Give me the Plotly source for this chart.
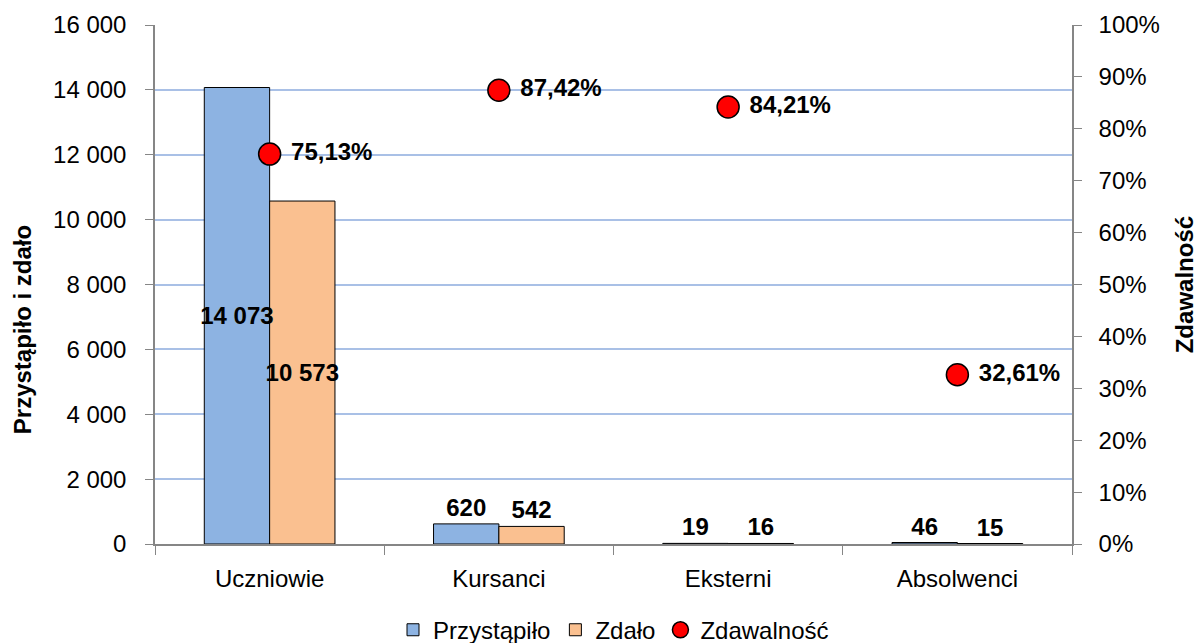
import plotly.graph_objects as go

categories = ["Uczniowie", "Kursanci", "Eksterni", "Absolwenci"]
przystapilo = [14073, 620, 19, 46]
zdalo = [10573, 542, 16, 15]
zdawalnosc = [75.13, 87.42, 84.21, 32.61]

FONT = "Liberation Sans, Arial, sans-serif"
AXIS_GRAY = "#868686"
GRID = "#A9C0E6"
FS = 24

fig = go.Figure()

def positions(vals, thr=2000):
    return ["inside" if v > thr else "outside" for v in vals]

series = [("Przystąpiło", przystapilo, "#8DB3E2", "p"),
          ("Zdało", zdalo, "#FAC090", "z")]

# visible bars
for name, vals, color, grp in series:
    fig.add_trace(go.Bar(
        name=name, x=categories, y=vals, offsetgroup=grp,
        marker=dict(color=color, line=dict(color="#000000", width=1)),
    ))

# transparent twins carrying the value labels, drawn after all bars so labels sit on top
for name, vals, color, grp in series:
    fig.add_trace(go.Bar(
        name=name, x=categories, y=vals, offsetgroup=grp, showlegend=False,
        marker=dict(color="rgba(0,0,0,0)", line=dict(width=0)),
        texttemplate="%{y:,}", textposition=positions(vals),
        insidetextanchor="middle", textangle=0, constraintext="none",
        textfont=dict(family=FONT, size=FS, color="#000000", weight="bold"),
        cliponaxis=False, hoverinfo="skip",
    ))

fig.add_trace(go.Scatter(
    name="Zdawalność", x=categories, y=zdawalnosc, yaxis="y2",
    mode="markers+text",
    marker=dict(color="#FF0000", size=22, line=dict(color="#000000", width=1.5)),
    texttemplate=" %{y:.2f}%", textposition="middle right",
    textfont=dict(family=FONT, size=FS, color="#000000", weight="bold"),
    cliponaxis=False,
))

# page body has an 8px default margin; compensate so the plot area sits where the reference has it
fig.update_layout(
    width=1194, height=635,
    margin=dict(l=147, r=130, t=17, b=99, autoexpand=False),
    paper_bgcolor="white", plot_bgcolor="white",
    font=dict(family=FONT, size=FS, color="#000000"),
    separators=", ",
    barmode="group", bargap=0.43, bargroupgap=0,
    showlegend=True,
    legend=dict(orientation="h", x=0.5, xanchor="center", y=-0.166, yanchor="middle",
                font=dict(family=FONT, size=FS), itemwidth=30, tracegroupgap=0,
                bgcolor="rgba(0,0,0,0)"),
    xaxis=dict(showline=True, linecolor=AXIS_GRAY, linewidth=1.5,
               ticks="outside", tickson="boundaries", ticklen=9, tickcolor=AXIS_GRAY,
               ticklabelstandoff=12,
               tickfont=dict(family=FONT, size=FS), showgrid=False),
    yaxis=dict(range=[0, 16000], dtick=2000, tickformat=",", separatethousands=True,
               showline=True, linecolor=AXIS_GRAY, linewidth=1.5,
               ticks="outside", ticklen=8, tickcolor=AXIS_GRAY, ticklabelstandoff=14,
               showgrid=True, gridcolor=GRID, gridwidth=2, zeroline=False,
               tickfont=dict(family=FONT, size=FS)),
    yaxis2=dict(range=[0, 100], dtick=10, ticksuffix="%", overlaying="y", side="right",
                showline=True, linecolor=AXIS_GRAY, linewidth=1.5,
                ticks="outside", ticklen=8, tickcolor=AXIS_GRAY, ticklabelstandoff=12,
                showgrid=False, zeroline=False,
                tickfont=dict(family=FONT, size=FS)),
    annotations=[
        dict(text="Przystąpiło i zdało", xref="paper", yref="paper",
             x=-0.145, y=0.412, xanchor="center", yanchor="middle", textangle=-90,
             showarrow=False, font=dict(family=FONT, size=FS, weight="bold")),
        dict(text="Zdawalność", xref="paper", yref="paper",
             x=1.123, y=0.5, xanchor="center", yanchor="middle", textangle=-90,
             showarrow=False, font=dict(family=FONT, size=FS, weight="bold")),
    ],
)

fig.write_html("out.html")
